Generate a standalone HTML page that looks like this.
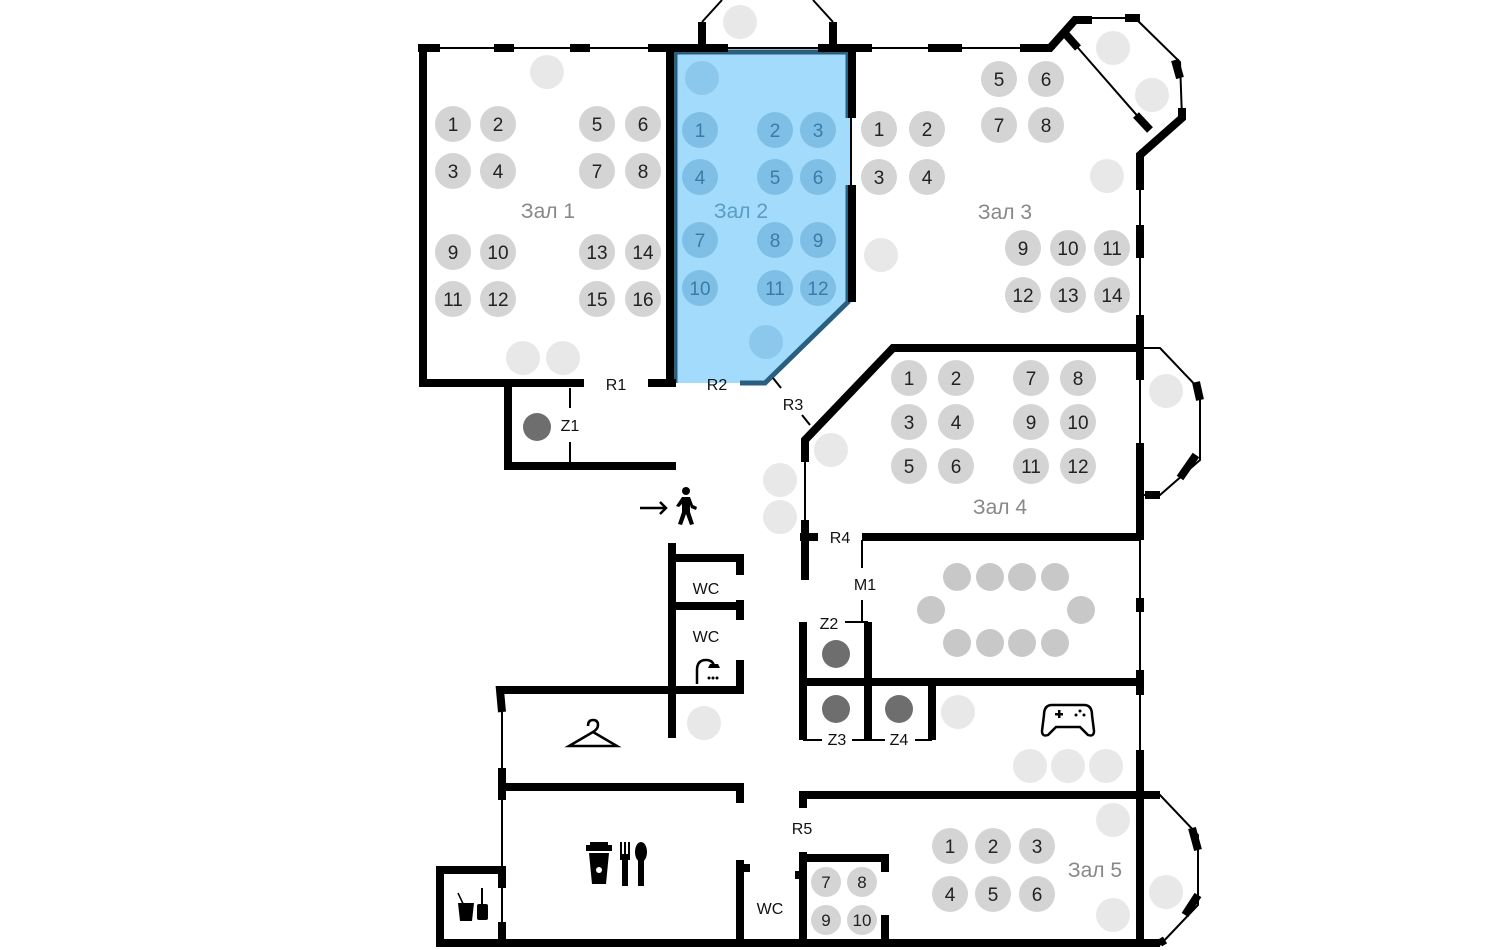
<!DOCTYPE html>
<html><head><meta charset="utf-8"><style>
html,body{margin:0;padding:0;background:#fff;}
svg{display:block;}
text{font-family:"Liberation Sans",sans-serif;}
</style></head><body>
<svg width="1500" height="950" viewBox="0 0 1500 950" xmlns="http://www.w3.org/2000/svg">
<polygon points="672,50 850,50 850,302 765,383 672,383" fill="#a3dbfc"/>
<polyline points="675,383 675,52 848,52" fill="none" stroke="#2b5f80" stroke-width="5"/>
<polyline points="848,185 848,302 765,383 740,383" fill="none" stroke="#2b5f80" stroke-width="5"/>
<line x1="848" y1="52" x2="848" y2="118" stroke="#2b5f80" stroke-width="5"/>

<g stroke="#000" fill="none" stroke-linecap="butt">
<g stroke-width="2">
<line x1="418" y1="48" x2="1055" y2="48"/>
<line x1="851" y1="110" x2="851" y2="190"/>
<line x1="1140" y1="150" x2="1140" y2="945"/>
<line x1="805" y1="440" x2="805" y2="580"/>
<line x1="502" y1="690" x2="502" y2="943"/>
<line x1="1080" y1="18" x2="1135" y2="18"/>
<polyline points="1135,18 1180,62 1182,118 1140,155"/>
<line x1="1065" y1="33" x2="1148" y2="128"/>
<polyline points="1140,348 1160,348 1200,390 1200,460 1160,495 1140,495"/>
<polyline points="1140,795 1160,795 1198,835 1198,905 1160,945"/>
<polyline points="702,22 722,0"/><polyline points="833,22 813,0"/>
<line x1="570" y1="388" x2="570" y2="408"/><line x1="570" y1="442" x2="570" y2="466"/>
<line x1="862" y1="540" x2="862" y2="568"/><line x1="862" y1="600" x2="862" y2="622"/>
<line x1="845" y1="622" x2="868" y2="622"/>
<line x1="803" y1="740" x2="822" y2="740"/><line x1="852" y1="740" x2="885" y2="740"/><line x1="915" y1="740" x2="932" y2="740"/>
<line x1="773" y1="378" x2="781" y2="388"/><line x1="802" y1="415" x2="810" y2="425"/>
</g>
<g stroke-width="8">
<polyline points="423,48 423,383 584,383"/>
<line x1="648" y1="383" x2="676" y2="383"/>
<line x1="670" y1="48" x2="670" y2="383"/>
<line x1="418" y1="48" x2="440" y2="48"/><line x1="494" y1="48" x2="514" y2="48"/><line x1="570" y1="48" x2="590" y2="48"/><line x1="648" y1="48" x2="728" y2="48"/>
<line x1="702" y1="48" x2="702" y2="22"/><line x1="833" y1="48" x2="833" y2="22"/>
<line x1="818" y1="48" x2="872" y2="48"/><line x1="928" y1="48" x2="962" y2="48"/>
<polyline points="1020,48 1050,48 1075,20 1092,20"/>
<line x1="1125" y1="18" x2="1140" y2="18"/>
<line x1="1175" y1="60" x2="1180" y2="78"/>
<polyline points="1182,108 1182,118 1140,155 1140,190"/>
<line x1="1062" y1="30" x2="1078" y2="48"/><line x1="1136" y1="115" x2="1150" y2="130"/>
<line x1="852" y1="48" x2="852" y2="118"/><line x1="852" y1="185" x2="852" y2="302"/>
<line x1="1140" y1="225" x2="1140" y2="258"/><line x1="1140" y1="315" x2="1140" y2="380"/>
<line x1="1140" y1="443" x2="1140" y2="540"/>
<polyline points="1140,348 893,348 805,440 805,462"/>
<line x1="1196" y1="382" x2="1200" y2="400"/><line x1="1196" y1="455" x2="1180" y2="478"/>
<line x1="1160" y1="495" x2="1145" y2="495"/>
<polyline points="508,383 508,466 676,466"/>
<line x1="805" y1="520" x2="805" y2="580"/><line x1="800" y1="537" x2="818" y2="537"/>
<line x1="862" y1="537" x2="1140" y2="537"/>
<line x1="1140" y1="598" x2="1140" y2="612"/>
<line x1="803" y1="622" x2="803" y2="740"/><line x1="868" y1="622" x2="868" y2="740"/>
<line x1="803" y1="682" x2="1140" y2="682"/><line x1="932" y1="682" x2="932" y2="740"/>
<line x1="1140" y1="670" x2="1140" y2="695"/><line x1="1140" y1="750" x2="1140" y2="945"/>
<polyline points="672,543 672,738"/>
<polyline points="672,558 740,558 740,575"/><line x1="740" y1="600" x2="740" y2="620"/>
<line x1="672" y1="606" x2="740" y2="606"/>
<polyline points="740,660 740,690 500,690 502,712"/>
<line x1="502" y1="768" x2="502" y2="800"/>
<polyline points="502,787 740,787 740,803"/>
<polyline points="803,808 803,795 1160,795"/>
<line x1="1192" y1="828" x2="1198" y2="850"/><line x1="1198" y1="895" x2="1185" y2="915"/><line x1="1160" y1="943" x2="1165" y2="940"/>
<polyline points="440,943 440,870 502,870 502,888"/>
<line x1="502" y1="922" x2="502" y2="943"/>
<line x1="436" y1="943" x2="1160" y2="943"/>
<line x1="740" y1="860" x2="740" y2="943"/><line x1="740" y1="868" x2="750" y2="868"/>
<polyline points="803,852 803,943"/><line x1="795" y1="875" x2="803" y2="875"/>
<polyline points="803,858 885,858 885,872"/>
<line x1="885" y1="915" x2="885" y2="943"/>
</g>
</g>

<g fill="#e8e8e8">
<circle cx="547" cy="72" r="17"/><circle cx="740" cy="22" r="17"/><circle cx="523" cy="358" r="17"/><circle cx="563" cy="358" r="17"/>
<circle cx="881" cy="255" r="17"/><circle cx="1113" cy="48" r="17"/><circle cx="1152" cy="95" r="17"/><circle cx="1107" cy="176" r="17"/>
<circle cx="831" cy="450" r="17"/><circle cx="780" cy="480" r="17"/><circle cx="780" cy="517" r="17"/><circle cx="1166" cy="391" r="17"/>
<circle cx="704" cy="723" r="17"/><circle cx="958" cy="712" r="17"/><circle cx="1030" cy="766" r="17"/><circle cx="1068" cy="766" r="17"/><circle cx="1106" cy="766" r="17"/>
<circle cx="1113" cy="820" r="17"/><circle cx="1166" cy="892" r="17"/><circle cx="1113" cy="915" r="17"/>
</g>
<g fill="#8cc8ec"><circle cx="702" cy="78" r="17"/><circle cx="766" cy="342" r="17"/></g>
<g fill="#c8c8c8">
<circle cx="957" cy="577" r="14"/><circle cx="990" cy="577" r="14"/><circle cx="1022" cy="577" r="14"/><circle cx="1055" cy="577" r="14"/>
<circle cx="957" cy="643" r="14"/><circle cx="990" cy="643" r="14"/><circle cx="1022" cy="643" r="14"/><circle cx="1055" cy="643" r="14"/>
<circle cx="931" cy="610" r="14"/><circle cx="1081" cy="610" r="14"/>
</g>
<g fill="#6e6e6e"><circle cx="537" cy="427" r="14"/><circle cx="836" cy="654" r="14"/><circle cx="836" cy="709" r="14"/><circle cx="899" cy="709" r="14"/></g>

<g font-size="19" text-anchor="middle">
<g fill="#d4d4d4">
<circle cx="453" cy="124" r="18"/><circle cx="498" cy="124" r="18"/><circle cx="597" cy="124" r="18"/><circle cx="643" cy="124" r="18"/>
<circle cx="453" cy="171" r="18"/><circle cx="498" cy="171" r="18"/><circle cx="597" cy="171" r="18"/><circle cx="643" cy="171" r="18"/>
<circle cx="453" cy="252" r="18"/><circle cx="498" cy="252" r="18"/><circle cx="597" cy="252" r="18"/><circle cx="643" cy="252" r="18"/>
<circle cx="453" cy="299" r="18"/><circle cx="498" cy="299" r="18"/><circle cx="597" cy="299" r="18"/><circle cx="643" cy="299" r="18"/>
<circle cx="879" cy="129" r="18"/><circle cx="927" cy="129" r="18"/><circle cx="879" cy="177" r="18"/><circle cx="927" cy="177" r="18"/>
<circle cx="999" cy="79" r="18"/><circle cx="1046" cy="79" r="18"/><circle cx="999" cy="125" r="18"/><circle cx="1046" cy="125" r="18"/>
<circle cx="1023" cy="248" r="18"/><circle cx="1068" cy="248" r="18"/><circle cx="1112" cy="248" r="18"/>
<circle cx="1023" cy="295" r="18"/><circle cx="1068" cy="295" r="18"/><circle cx="1112" cy="295" r="18"/>
<circle cx="909" cy="378" r="18"/><circle cx="956" cy="378" r="18"/><circle cx="1031" cy="378" r="18"/><circle cx="1078" cy="378" r="18"/>
<circle cx="909" cy="422" r="18"/><circle cx="956" cy="422" r="18"/><circle cx="1031" cy="422" r="18"/><circle cx="1078" cy="422" r="18"/>
<circle cx="909" cy="466" r="18"/><circle cx="956" cy="466" r="18"/><circle cx="1031" cy="466" r="18"/><circle cx="1078" cy="466" r="18"/>
<circle cx="950" cy="846" r="18"/><circle cx="993" cy="846" r="18"/><circle cx="1037" cy="846" r="18"/>
<circle cx="950" cy="894" r="18"/><circle cx="993" cy="894" r="18"/><circle cx="1037" cy="894" r="18"/>
<circle cx="826" cy="882" r="15"/><circle cx="862" cy="882" r="15"/><circle cx="826" cy="920" r="15"/><circle cx="862" cy="920" r="15"/>
</g>
<g fill="#7fbfe6">
<circle cx="700" cy="130" r="18"/><circle cx="775" cy="130" r="18"/><circle cx="818" cy="130" r="18"/>
<circle cx="700" cy="177" r="18"/><circle cx="775" cy="177" r="18"/><circle cx="818" cy="177" r="18"/>
<circle cx="700" cy="240" r="18"/><circle cx="775" cy="240" r="18"/><circle cx="818" cy="240" r="18"/>
<circle cx="700" cy="288" r="18"/><circle cx="775" cy="288" r="18"/><circle cx="818" cy="288" r="18"/>
</g>
<g fill="#222">
<text x="453" y="131">1</text><text x="498" y="131">2</text><text x="597" y="131">5</text><text x="643" y="131">6</text>
<text x="453" y="178">3</text><text x="498" y="178">4</text><text x="597" y="178">7</text><text x="643" y="178">8</text>
<text x="453" y="259">9</text><text x="498" y="259">10</text><text x="597" y="259">13</text><text x="643" y="259">14</text>
<text x="453" y="306">11</text><text x="498" y="306">12</text><text x="597" y="306">15</text><text x="643" y="306">16</text>
<text x="879" y="136">1</text><text x="927" y="136">2</text><text x="879" y="184">3</text><text x="927" y="184">4</text>
<text x="999" y="86">5</text><text x="1046" y="86">6</text><text x="999" y="132">7</text><text x="1046" y="132">8</text>
<text x="1023" y="255">9</text><text x="1068" y="255">10</text><text x="1112" y="255">11</text>
<text x="1023" y="302">12</text><text x="1068" y="302">13</text><text x="1112" y="302">14</text>
<text x="909" y="385">1</text><text x="956" y="385">2</text><text x="1031" y="385">7</text><text x="1078" y="385">8</text>
<text x="909" y="429">3</text><text x="956" y="429">4</text><text x="1031" y="429">9</text><text x="1078" y="429">10</text>
<text x="909" y="473">5</text><text x="956" y="473">6</text><text x="1031" y="473">11</text><text x="1078" y="473">12</text>
<text x="950" y="853">1</text><text x="993" y="853">2</text><text x="1037" y="853">3</text>
<text x="950" y="901">4</text><text x="993" y="901">5</text><text x="1037" y="901">6</text>
<g font-size="17"><text x="826" y="888">7</text><text x="862" y="888">8</text><text x="826" y="926">9</text><text x="862" y="926">10</text></g>
</g>
<g fill="#3a7ca6">
<text x="700" y="137">1</text><text x="775" y="137">2</text><text x="818" y="137">3</text>
<text x="700" y="184">4</text><text x="775" y="184">5</text><text x="818" y="184">6</text>
<text x="700" y="247">7</text><text x="775" y="247">8</text><text x="818" y="247">9</text>
<text x="700" y="295">10</text><text x="775" y="295">11</text><text x="818" y="295">12</text>
</g>
</g>

<g font-size="21" text-anchor="middle" fill="#888">
<text x="548" y="218">Зал 1</text>
<text x="741" y="218" fill="#5a9cc4">Зал 2</text>
<text x="1005" y="219">Зал 3</text>
<text x="1000" y="514">Зал 4</text>
<text x="1095" y="877">Зал 5</text>
</g>
<g font-size="16" text-anchor="middle" fill="#111">
<text x="616" y="390">R1</text><text x="717" y="390">R2</text><text x="793" y="410">R3</text>
<text x="840" y="543">R4</text><text x="802" y="834">R5</text><text x="865" y="590">M1</text>
<text x="570" y="431">Z1</text><text x="829" y="629">Z2</text><text x="837" y="745">Z3</text><text x="899" y="745">Z4</text>
<text x="706" y="594">WC</text><text x="706" y="642">WC</text><text x="770" y="914">WC</text>
</g>

<g stroke="#000" fill="none" stroke-width="2.5">
<line x1="640" y1="508" x2="666" y2="508"/><polyline points="660,502 666,508 660,514"/>
<path d="M588,726 q0,-6 5,-6 q5,0 5,5 q0,4 -5,7 l-24,14 h48 l-24,-14"/>
<path d="M1052,705 h32 q8,0 8,10 l2,16 q0,6 -6,4 l-8,-8 h-24 l-8,8 q-6,2 -6,-4 l2,-16 q0,-10 8,-10z"/>
<path d="M697,684 v-14 q0,-10 9,-10 q8,0 8,8"/>
</g>
<g fill="#000">
<circle cx="686" cy="491" r="4"/>
<path d="M682,497 h8 l3,8 l4,2 -1,3 -5,-2 -1,-3 v7 l4,12 -4,1 -4,-11 -4,11 -4,-1 4,-12 v-8 l-3,3 -3,-1z"/>
<path d="M708,668 h12 l-2,-4 h-8z"/><circle cx="709" cy="678" r="1.5"/><circle cx="713" cy="678" r="1.5"/><circle cx="717" cy="678" r="1.5"/>
<rect x="586" y="845" width="26" height="6"/><path d="M589,853 h20 l-3,31 h-14z"/><circle cx="599" cy="870" r="3" fill="#fff"/>
<rect x="590" y="842" width="18" height="4"/>
<rect x="620" y="842" width="2" height="14"/><rect x="624" y="842" width="2" height="14"/><rect x="628" y="842" width="2" height="14"/>
<rect x="620" y="854" width="10" height="6"/><rect x="622" y="858" width="6" height="28"/>
<ellipse cx="641" cy="852" rx="6" ry="10"/><rect x="638" y="858" width="6" height="28"/>
<rect x="1055" y="713" width="8" height="2.5"/><rect x="1058" y="710" width="2.5" height="8"/>
<circle cx="1080" cy="711" r="1.5"/><circle cx="1084" cy="715" r="1.5"/><circle cx="1076" cy="715" r="1.5"/>
<path d="M458,903 h16 l-2,18 h-12z"/><rect x="477" y="904" width="11" height="16" rx="2"/><rect x="481" y="888" width="2" height="16"/>
</g>
<line x1="458" y1="893" x2="466" y2="910" stroke="#000" stroke-width="1.5"/>
</svg>
</body></html>
